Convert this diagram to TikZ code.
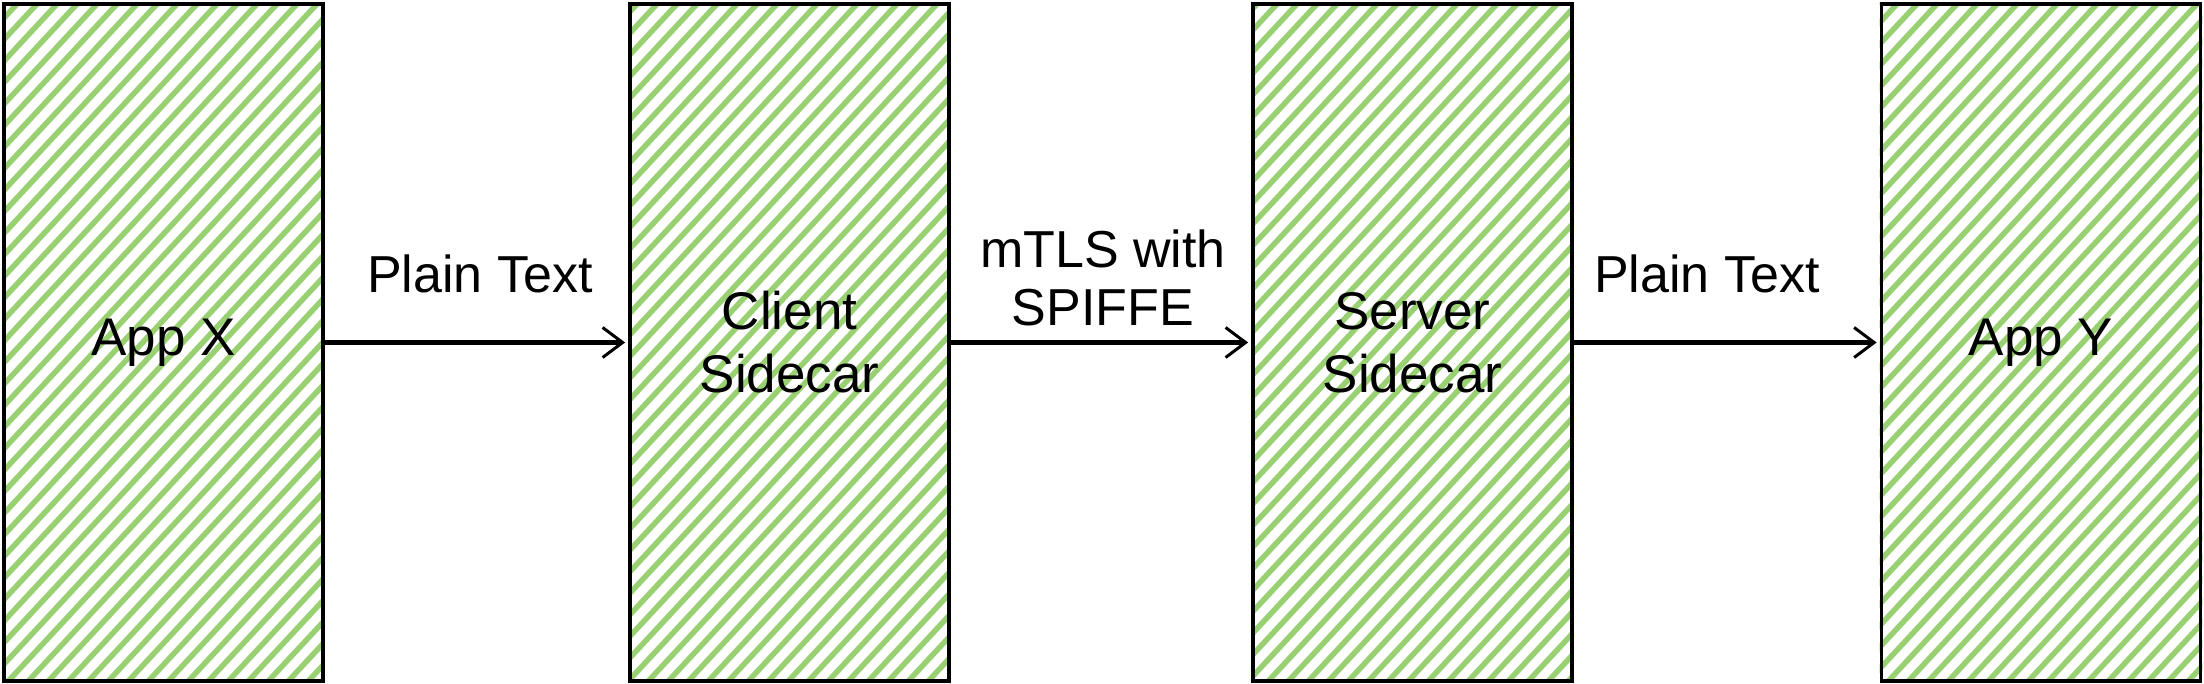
\documentclass[tikz,border=0pt]{standalone}
\usepackage{fontspec}
\setmainfont{Liberation Sans}
\usetikzlibrary{arrows.meta,backgrounds}
\definecolor{hatch}{RGB}{152,208,114}
\tikzset{
  box/.style={draw=black, line width=3.8pt, inner sep=0pt, minimum width=319pt, minimum height=677pt, align=center, font=\fontsize{53}{63}\selectfont},
  lbl/.style={align=center, inner sep=0pt, font=\fontsize{52}{58}\selectfont},
  flow/.style={draw=black, line width=4.5pt, -{Straight Barb[length=20pt,width=30pt,line width=3pt]}, shorten >=3pt},
  hatchline/.style={draw=hatch, line width=5.5pt}
}
\begin{document}
\begin{tikzpicture}[x=1pt,y=-1pt]
\useasboundingbox (0,0) rectangle (2204,684);
\node[box] (appx) at (163.5,342.5) {App X};
\node[box] (client) at (789.5,342.5) {Client\\Sidecar};
\node[box] (server) at (1412.5,342.5) {Server\\Sidecar};
\node[box] (appy) at (2041,342.5) {App Y};
\begin{scope}[on background layer]
  \foreach \b in {appx,client,server,appy}{
    \begin{scope}
      \clip (\b.north west) rectangle (\b.south east);
      \foreach \s in {-700,-680,...,2220}{
        \draw[hatchline] (\s,690) -- ++(650,-700);
      }
    \end{scope}
  }
\end{scope}
\draw[flow] (appx.east) -- (client.west);
\draw[flow] (client.east) -- (server.west);
\draw[flow] (server.east) -- (appy.west);
\node[lbl] (t1) at (480,274) {Plain Text};
\node[lbl] (t2) at (1103,278) {mTLS with\\SPIFFE};
\node[lbl] (t3) at (1707,274) {Plain Text};
\end{tikzpicture}
\end{document}
